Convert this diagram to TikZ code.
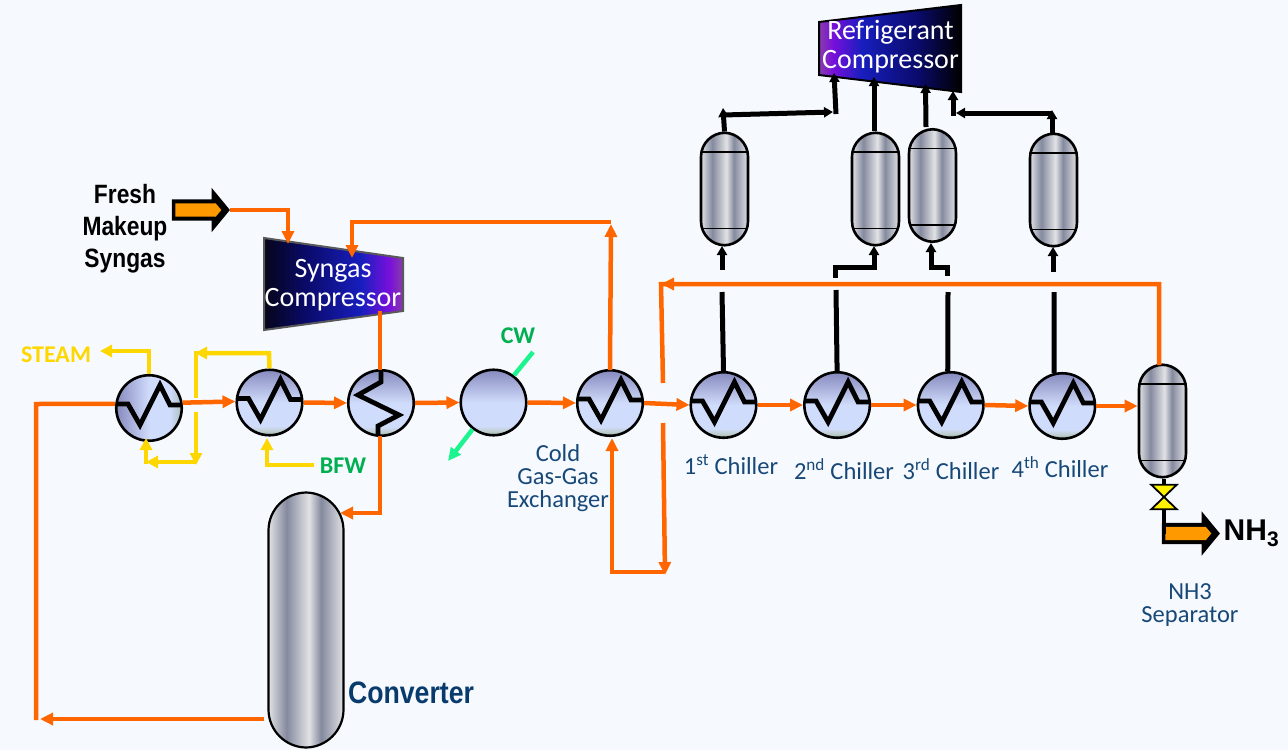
\documentclass[tikz,border=0pt]{standalone}
\usepackage{fontspec}
\usetikzlibrary{arrows.meta,positioning,shapes.arrows}
\setmainfont{Carlito}
\newfontfamily\narrowfont{Liberation Sans}[FakeStretch=0.86,BoldFeatures={FakeStretch=0.86}]
\newfontfamily\arialfont{Liberation Sans}
\definecolor{pagebg}{RGB}{246, 250, 254}
\definecolor{gasorange}{RGB}{255, 102, 0}
\definecolor{feedorange}{RGB}{255, 153, 0}
\definecolor{steamyellow}{RGB}{255, 215, 0}
\definecolor{cwgreen}{RGB}{28, 245, 142}
\definecolor{tagreen}{RGB}{0, 176, 80}
\definecolor{labelblue}{RGB}{24, 72, 120}
\definecolor{convblue}{RGB}{8, 58, 108}
\definecolor{hxtop}{RGB}{134, 138, 190}
\definecolor{hxmid}{RGB}{208, 220, 251}
\definecolor{hxlow}{RGB}{190, 205, 205}
\definecolor{hxbase}{RGB}{152, 172, 160}
\definecolor{hxedge}{RGB}{170, 190, 190}
\definecolor{drumlight}{RGB}{226, 226, 229}
\definecolor{drumdark}{RGB}{132, 138, 158}
\definecolor{compblack}{RGB}{5, 5, 25}
\definecolor{compnavy}{RGB}{10, 10, 105}
\definecolor{compblue}{RGB}{24, 30, 190}
\definecolor{compviolet}{RGB}{120, 15, 220}
\definecolor{compplum}{RGB}{135, 60, 170}
\pgfdeclareverticalshading{exchgrad}{100bp}{
 color(0bp)=(hxbase);
 color(25bp)=(hxbase);
 color(28bp)=(hxlow);
 color(32bp)=(hxmid);
 color(50bp)=(hxmid);
 color(75bp)=(hxtop);
 color(100bp)=(hxtop)}
\pgfdeclarehorizontalshading{exchsidegrad}{100bp}{
 color(0bp)=(hxtop);
 color(25bp)=(hxtop);
 color(50bp)=(hxmid);
 color(66bp)=(hxmid);
 color(75bp)=(hxedge);
 color(100bp)=(hxedge)}
\pgfdeclarehorizontalshading{drumgrad}{100bp}{
 color(0bp)=(drumlight);
 color(25bp)=(drumlight);
 color(37bp)=(drumdark);
 color(52bp)=(drumlight);
 color(60bp)=(drumdark);
 color(75bp)=(drumlight);
 color(100bp)=(drumlight)}
\pgfdeclarehorizontalshading{syngasgrad}{100bp}{
 color(0bp)=(compblack);
 color(25bp)=(compblack);
 color(40bp)=(compnavy);
 color(60bp)=(compblue);
 color(70bp)=(compviolet);
 color(75bp)=(compplum);
 color(100bp)=(compplum)}
\pgfdeclarehorizontalshading{refriggrad}{100bp}{
 color(0bp)=(compplum);
 color(25bp)=(compplum);
 color(30bp)=(compviolet);
 color(40bp)=(compblue);
 color(60bp)=(compnavy);
 color(75bp)=(black);
 color(100bp)=(black)}
\tikzset{
 exchanger/.style={
 circle,
 draw=black,
 line width=2.6pt,
 minimum size=65.5pt,
 inner sep=0pt,
 shade,
 shading=exchgrad
 },
 cooler/.style={
 exchanger,
 path picture={
 \draw[coilline] (path picture bounding box.center) ++(-35,-4) -- ++(14,0) -- ++(12,21) -- ++(20,-40) -- ++(10,20) -- ++(13,0);
 }
 },
 reboiler/.style={
 exchanger,
 path picture={
 \draw[coilline] (path picture bounding box.center) ++(0,-35) -- ++(0,14) -- ++(-23,13) -- ++(41,20) -- ++(-21,11) -- ++(0,12);
 }
 },
 coilline/.style={line width=4.8pt, draw=black, line join=miter},
 drum/.style={
 rectangle,
 rounded corners=24pt,
 draw=black,
 line width=2.6pt,
 minimum width=47pt,
 minimum height=112.5pt,
 inner sep=0pt,
 shade,
 shading=drumgrad,
 path picture={
 \draw[line width=1.5pt] ([yshift=-19pt]path picture bounding box.north west) -- ([yshift=-19pt]path picture bounding box.north east);
 \draw[line width=1.5pt] ([yshift=17pt]path picture bounding box.south west) -- ([yshift=17pt]path picture bounding box.south east);
 }
 },
 reactor/.style={
 rectangle,
 rounded corners=38pt,
 draw=black,
 line width=2.2pt,
 minimum width=75pt,
 minimum height=255pt,
 inner sep=0pt,
 shade,
 shading=drumgrad
 },
 gasline/.style={line width=4.5pt, draw=gasorange},
 gasflow/.style={gasline, -{Triangle[length=13pt,width=12pt]}},
 steamline/.style={line width=4.5pt, draw=steamyellow},
 steamflow/.style={steamline, -{Triangle[length=12pt,width=12pt]}},
 refline/.style={line width=5pt, draw=black},
 refflow/.style={refline, -{Triangle[length=9pt,width=10pt]}},
 cwline/.style={line width=4.5pt, draw=cwgreen},
 cwflow/.style={cwline, -{Triangle[length=13pt,width=12pt]}},
 blockarrow/.style={
 single arrow,
 fill=black,
 inner xsep=0pt,
 inner ysep=10.5pt,
 minimum height=58pt,
 minimum width=44pt,
 single arrow head extend=11.5pt,
 single arrow tip angle=101
 },
 blockcore/.style={
 single arrow,
 fill=feedorange,
 inner xsep=0pt,
 inner ysep=6.5pt,
 minimum height=46pt,
 minimum width=13pt,
 single arrow head extend=0.1pt,
 single arrow tip angle=100
 },
 unitlabel/.style={
 align=center,
 text=labelblue,
 font=\fontsize{24.5}{23}\selectfont
 },
 complabel/.style={
 align=center,
 text=white,
 font=\fontsize{28}{29}\selectfont
 },
 tagyellow/.style={text=steamyellow, font=\fontsize{24}{25}\selectfont\bfseries},
 taggreen/.style={text=tagreen, font=\fontsize{24}{25}\selectfont\bfseries},
 valveshape/.style={minimum width=25pt, minimum height=24pt, inner sep=0pt}
}
\begin{document}
\begin{tikzpicture}[x=1pt, y=-1pt, node distance=45.5pt]
 \useasboundingbox (0,0) rectangle (1288,750);
 \fill[pagebg] (0,0) rectangle (1288,750);

 \coordinate (synga) at (264,238);
 \coordinate (syngb) at (403,258);
 \coordinate (syngc) at (403,311);
 \coordinate (syngd) at (264,330);
 \path[draw=black!65, line width=2pt, shade, shading=syngasgrad] (synga) -- (syngb) -- (syngc) -- (syngd) -- cycle;
 \coordinate (refa) at (819,22);
 \coordinate (refb) at (961,5);
 \coordinate (refc) at (961,92);
 \coordinate (refd) at (819,75);
 \path[draw=black, line width=2pt, shade, shading=refriggrad] (refa) -- (refb) -- (refc) -- (refd) -- cycle;

 \coordinate (cwin) at (533,352);
 \coordinate (cwout) at (448,461);

 \node[cooler, shading=exchsidegrad] (hxa) at (149,408) {};
 \node[cooler] (hxb) at (269.5,402.5) {};
 \node[reboiler] (hxc) at (381,403) {};
 \node[exchanger] (cwcooler) at (493.5,402.5) {};
 \node[cooler] (coldhx) at (610,403) {};
 \node[cooler] (chilla) at (723.5,405) {};
 \node[cooler, right=of chilla] (chillb) {};
 \node[cooler, right=of chillb] (chillc) {};
 \node[cooler, right=of chillc, xshift=-2pt, yshift=-1pt] (chilld) {};

 \node[drum] (drama) at (724.5,189) {};
 \node[drum] (dramb) at (875.5,189) {};
 \node[drum] (dramc) at (932.5,185.5) {};
 \node[drum] (dramd) at (1053.5,190) {};
 \node[drum] (separator) at (1162.5,421) {};
 \node[reactor] (converter) at (306,620) {};

 \node[valveshape] (nhvalve) at (1164,497) {};
 \filldraw[draw=black, fill=yellow, line width=1.8pt, line join=miter] (nhvalve.north west) -- (nhvalve.north east) -- (nhvalve.south west) -- (nhvalve.south east) -- cycle;

 % free ends of the lines
 \coordinate (syngasfeed) at (288,244);
 \coordinate (syngasrec) at (352,258);
 \coordinate (reccorner) at (611,222);
 \coordinate (recstart) at (36,720);
 \coordinate (recend) at (40,719);
 \coordinate (purgetop) at (661,284);
 \coordinate (purgelow) at (663,383);
 \coordinate (purgegap) at (663,423);
 \coordinate (purgeend) at (665,575);
 \coordinate (bypass) at (664,572);
 \coordinate (steamend) at (100,351);
 \coordinate (bfwstart) at (314,465);
 \coordinate (bfwend) at (267,438);
 \coordinate (loopend) at (195,353);
 \coordinate (loopgap) at (196,398);
 \coordinate (loopgapb) at (196,412);
 \coordinate (loopdown) at (196,465);
 \coordinate (looplow) at (146,462);

 \draw[gasline] (recstart) -- (36,404) -- (hxa.173);
 \draw[gasflow] (converter.west |- recend) ++(-3,0) -- (recend);
 \draw[gasflow] (hxa.9) -- ([yshift=1pt]hxb.west);
 \draw[gasflow] (hxb.east) -- (hxc.west);
 \draw[gasflow] (hxc.east) -- (cwcooler.west);
 \draw[gasflow] (cwcooler.east) -- (coldhx.west);
 \draw[gasflow] (coldhx.east) -- (chilla.west);
 \draw[gasflow] (chilla.east) -- (chillb.west);
 \draw[gasflow] (chillb.east) -- (chillc.west);
 \draw[gasflow] (chillc.east) -- (chilld.west);
 \draw[gasflow] (chilld.east) -- (separator.west |- chilld);
 \draw[gasline] (syngc -| 380,0) -- (380,370);
 \draw[gasflow] (380,436) -- (380,513) -- (340,513);
 \draw[gasflow] (coldhx.north |- 0,370) -- (611,224);
 \draw[gasflow] (reccorner) -- (352,222) -- (syngasrec);
 \draw[gasline] (1159,365) -- (1159,284) -- (purgetop) -- (purgelow);
 \draw[gasflow] (1159,284) -- (purgetop);
 \draw[gasflow] (purgegap) -- (purgeend);
 \draw[gasflow] (bypass) -- (612,572) -- (612,438);

 \node[blockarrow] (freshfeed) at (196.5,210) {};
 \node[blockcore] (freshcore) at (195.5,210) {};
 \draw[gasflow] (freshfeed.tip) -- (288,210) -- (syngasfeed);

 \draw[steamflow] (hxa.north) -- (149,351) -- (steamend);
 \draw[steamflow] (hxb.north) -- (269,353) -- (loopend);
 \draw[steamline] (196,351) -- (loopgap);
 \draw[steamflow] (loopgapb) -- (loopdown);
 \draw[steamflow] (196,462) -- (looplow);
 \draw[steamflow] (146,464) -- (146,438);
 \draw[steamflow] (bfwstart) -- (267,465) -- (bfwend);

 \draw[cwline] (cwin) -- (cwcooler.53);
 \draw[cwflow] (cwcooler.232) -- (cwout);

 \draw[refline] (chilla.north) -- (722,292);
 \draw[refflow] (722,270) -- (722,246);
 \draw[refline] (chillb.north) -- (836,290);
 \draw[refflow] (835,278) -- (835,267) -- (874,267) -- (874,246);
 \draw[refline] (chillc.95) -- (948,292);
 \draw[refflow] (947,276) -- (947,267) -- (931,267) -- (931,243);
 \draw[refline] (chilld.104) -- (1054,292);
 \draw[refflow] (1053,272) -- (1053,247);

 \draw[refflow] (drama.north) -- (723,108);
 \draw[refflow] (723,115) -- (833,112);
 \draw[refflow] (836,114) -- (834,73);
 \draw[refflow] (dramb.north -| 874,0) -- (874,77);
 \draw[refflow] (926,127) -- (925.5,84);
 \draw[refflow] (1052,133) -- (1052,110);
 \draw[refflow] (1052,113) -- (956,113);
 \draw[refflow] (953,115.5) -- (953,91);

 \draw[line width=4pt] (separator.south -| nhvalve) -- (nhvalve.north);
 \node[blockarrow] (nhproduct) at (1186.5,533.5) {};
 \node[blockcore] (nhcore) at (1185.5,533.5) {};
 \draw[line width=4.5pt] (nhvalve.south) -- (nhproduct.west -| nhvalve);

 \node[font=\narrowfont\bfseries\fontsize{26.5}{32}\selectfont, align=center] (freshlabel) at (125,229) {Fresh\\Makeup\\Syngas};
 \node[tagyellow] (steamlabel) at (56,355) {STEAM};
 \node[taggreen] (bfwlabel) at (343,466) {BFW};
 \node[taggreen] (cwlabel) at (518,336) {CW};
 \node[complabel] (syngaslabel) at (333,285) {Syngas\\Compressor};
 \node[complabel] (refriglabel) at (890.5,47) {Refrigerant\\Compressor};
 \node[unitlabel] (coldlabel) at (558,478) {Cold\\Gas-Gas\\Exchanger};
 \node[unitlabel] (chillalabel) at (731,465) {1\textsuperscript{st} Chiller};
 \node[unitlabel] (chillblabel) at (844,469) {2\textsuperscript{nd} Chiller};
 \node[unitlabel] (chillclabel) at (951,469) {3\textsuperscript{rd} Chiller};
 \node[unitlabel] (chilldlabel) at (1060,467) {4\textsuperscript{th} Chiller};
 \node[unitlabel] (seplabel) at (1190,605) {NH3\\Separator};
 \node[font=\narrowfont\bfseries\fontsize{31}{33}\selectfont, text=convblue] (convlabel) at (411,693) {Converter};
 \node[font=\arialfont\bfseries\fontsize{30}{32}\selectfont, right=0pt of nhproduct.tip] (nhlabel) {NH\textsubscript{3}};
\end{tikzpicture}
\end{document}
